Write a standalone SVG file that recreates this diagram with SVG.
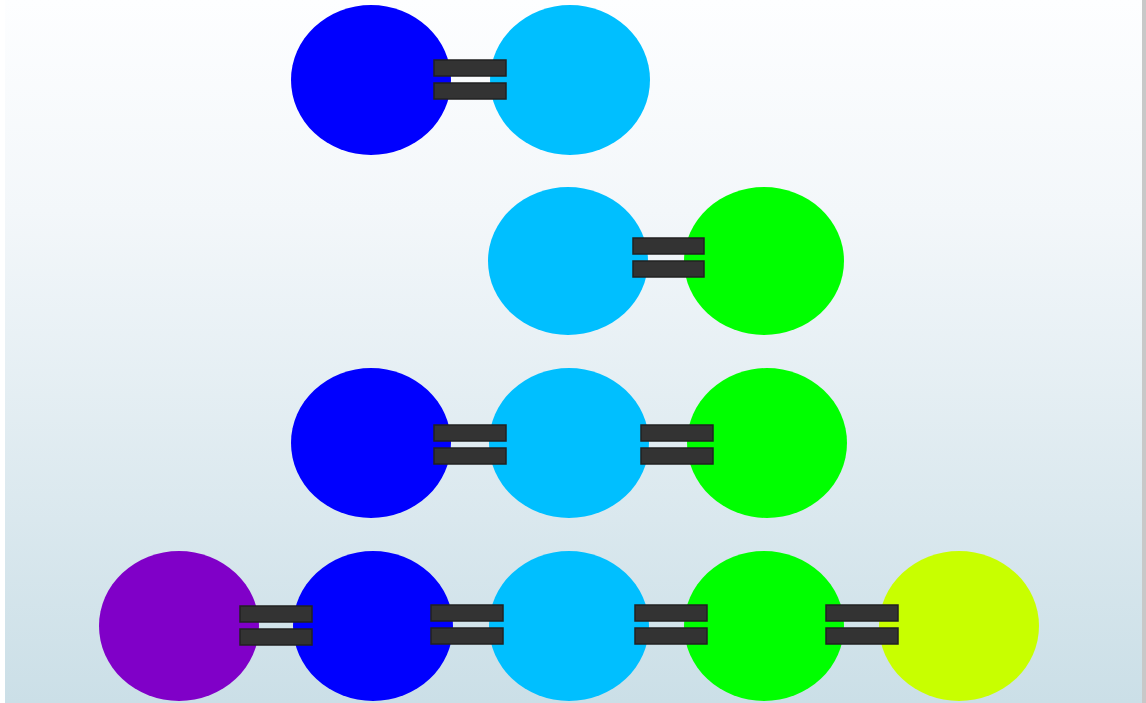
<svg xmlns="http://www.w3.org/2000/svg" width="1146" height="703" viewBox="0 0 1146 703">
  <defs>
    <linearGradient id="bg" x1="0" y1="0" x2="0" y2="1">
      <stop offset="0" stop-color="#fdfeff"/>
      <stop offset="0.3" stop-color="#f3f7fa"/>
      <stop offset="1" stop-color="#cbdfe7"/>
    </linearGradient>
    <style>
      .atom { stroke: none; }
      .blue { fill: #0000ff; }
      .cyan { fill: #00bfff; }
      .green { fill: #00ff00; }
      .purple { fill: #8000c8; }
      .yellow { fill: #c8ff00; }
      .bar { fill: #333333; stroke: #222222; stroke-width: 1.5; }
    </style>
  </defs>

  <!-- backdrop -->
  <rect x="0" y="0" width="1146" height="703" fill="#ffffff"/>
  <rect x="5" y="0" width="1137" height="703" fill="url(#bg)"/>
  <rect x="1142" y="0" width="4" height="703" fill="#c8c8c8"/>

  <!-- row 1 -->
  <g id="r1-a"><ellipse class="atom blue" cx="371" cy="80" rx="80" ry="75"/></g>
  <g id="r1-b"><ellipse class="atom cyan" cx="570" cy="80" rx="80" ry="75"/></g>

  <!-- row 2 -->
  <g id="r2-a"><ellipse class="atom cyan" cx="568" cy="261" rx="80" ry="74"/></g>
  <g id="r2-b"><ellipse class="atom green" cx="764" cy="261" rx="80" ry="74"/></g>

  <!-- row 3 -->
  <g id="r3-a"><ellipse class="atom blue" cx="371" cy="443" rx="80" ry="75"/></g>
  <g id="r3-b"><ellipse class="atom cyan" cx="569" cy="443" rx="80" ry="75"/></g>
  <g id="r3-c"><ellipse class="atom green" cx="767" cy="443" rx="80" ry="75"/></g>

  <!-- row 4 -->
  <g id="r4-a"><ellipse class="atom purple" cx="179" cy="626" rx="80" ry="75"/></g>
  <g id="r4-b"><ellipse class="atom blue" cx="373" cy="626" rx="80" ry="75"/></g>
  <g id="r4-c"><ellipse class="atom cyan" cx="569" cy="626" rx="80" ry="75"/></g>
  <g id="r4-d"><ellipse class="atom green" cx="764" cy="626" rx="80" ry="75"/></g>
  <g id="r4-e"><ellipse class="atom yellow" cx="959" cy="626" rx="80" ry="75"/></g>

  <!-- double bonds -->
  <g id="bonds">
    <rect class="bar" x="434" y="60" width="72" height="16"/>
    <rect class="bar" x="434" y="83" width="72" height="16"/>

    <rect class="bar" x="633" y="238" width="71" height="16"/>
    <rect class="bar" x="633" y="261" width="71" height="16"/>

    <rect class="bar" x="434" y="425" width="72" height="16"/>
    <rect class="bar" x="434" y="448" width="72" height="16"/>
    <rect class="bar" x="641" y="425" width="72" height="16"/>
    <rect class="bar" x="641" y="448" width="72" height="16"/>

    <rect class="bar" x="240" y="606" width="72" height="16"/>
    <rect class="bar" x="240" y="629" width="72" height="16"/>
    <rect class="bar" x="431" y="605" width="72" height="16"/>
    <rect class="bar" x="431" y="628" width="72" height="16"/>
    <rect class="bar" x="635" y="605" width="72" height="16"/>
    <rect class="bar" x="635" y="628" width="72" height="16"/>
    <rect class="bar" x="826" y="605" width="72" height="16"/>
    <rect class="bar" x="826" y="628" width="72" height="16"/>
  </g>
</svg>
